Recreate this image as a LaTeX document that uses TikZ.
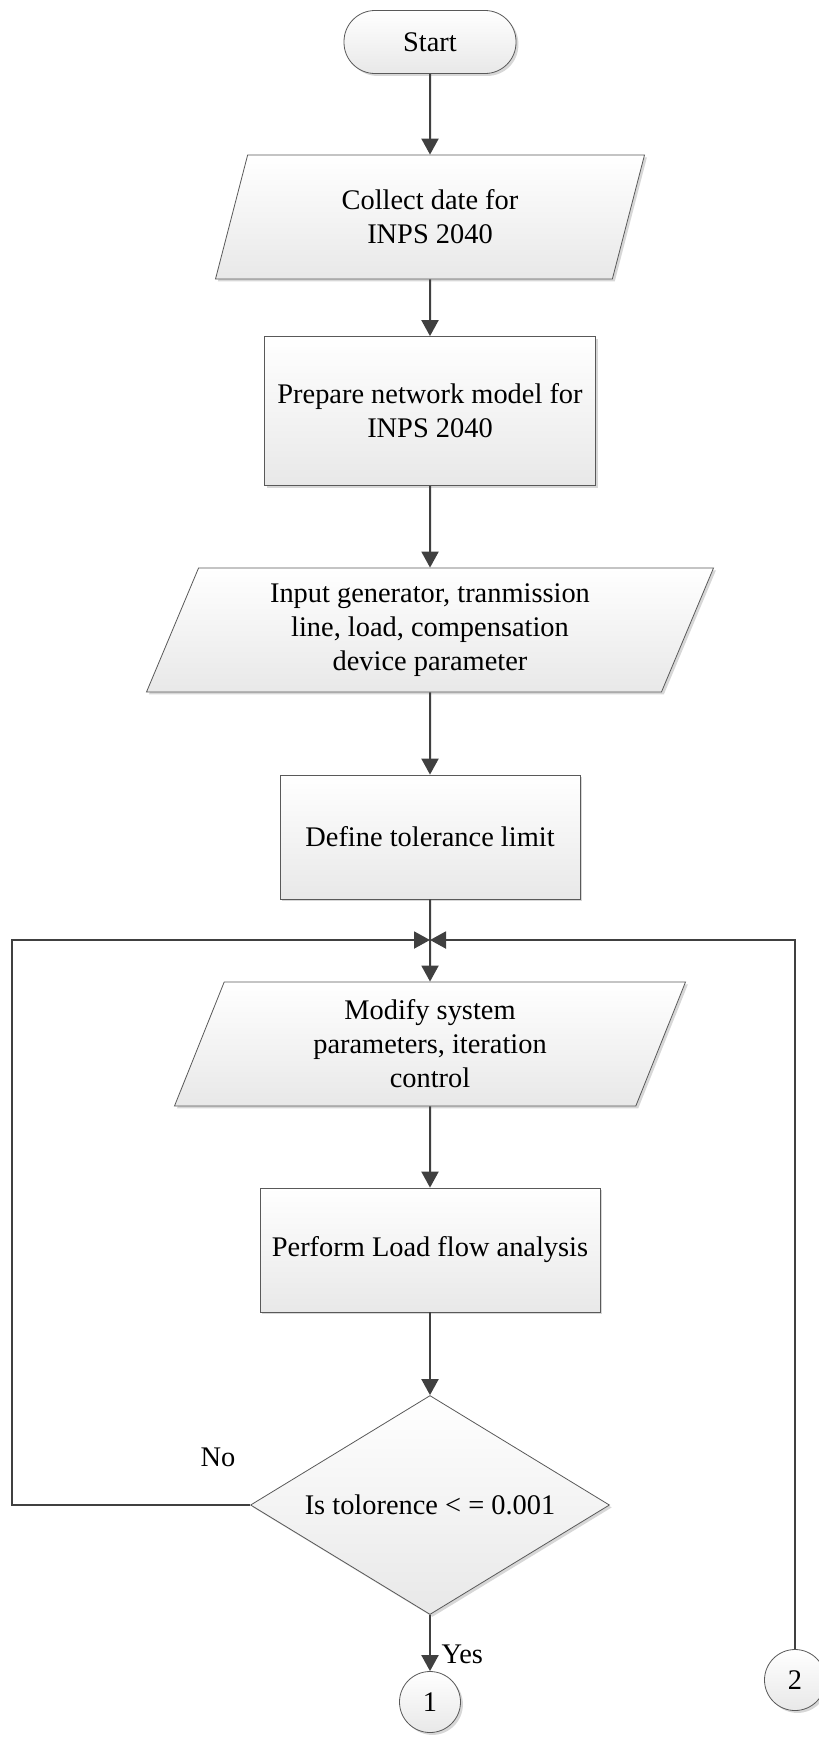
\documentclass[tikz,border=0pt]{standalone}
\usepackage{fontspec}
\setmainfont{Liberation Serif}
\usetikzlibrary{shapes.geometric,shadows,arrows.meta}

\begin{document}
\begin{tikzpicture}[x=.5pt,y=-.5pt,font=\fontsize{14.2}{17}\selectfont,
  box/.style={draw=black!65, line width=.4pt, top color=white, bottom color=black!9, align=center, inner sep=2pt,
    drop shadow={shadow xshift=1.2pt, shadow yshift=-1.2pt, fill=black!35, opacity=.45}},
  proc/.style={box, rectangle, minimum width=#1, minimum height=62pt},
  io/.style={box, trapezium, trapezium left angle=62.7, trapezium right angle=117.3, trapezium stretches body, minimum width=#1, minimum height=62pt},
  link/.style={draw=black!75, line width=1pt, -{Triangle[length=8pt,width=8.5pt]}}]
\useasboundingbox (0,0) rectangle (819,1758);
\node[box, minimum width=86pt, minimum height=31.5pt, rounded corners=15.5pt] (start) at (430,42) {Start};
\node[io=214.5pt] (collect) at (430,217) {Collect date for\\INPS 2040};
\node[proc=165.5pt, minimum height=74.5pt] (prepare) at (430,411) {Prepare network model for\\INPS 2040};
\node[io=283.5pt] (input) at (430,630) {Input generator, tranmission\\line, load, compensation\\device parameter};
\node[proc=150pt] (define) at (430,837) {Define tolerance limit};
\node[io=255.5pt] (modify) at (430,1044) {Modify system\\parameters, iteration\\control};
\node[proc=170pt] (perform) at (430,1250) {Perform Load flow analysis};
\node[box, diamond, aspect=1.64, inner sep=0pt, minimum width=179.5pt, minimum height=109.5pt] (test) at (430,1505) {Is tolorence < = 0.001};
\node[box, circle, inner sep=0pt, minimum size=30.5pt] (one) at (430,1702) {1};
\node[box, circle, inner sep=0pt, minimum size=30.5pt] (two) at (795,1680) {2};
\node (no) at (218,1457) {No};
\coordinate (merge) at (430,940);
\coordinate (loopL) at (12,940);
\coordinate (loopR) at (795,940);
\draw[link] (start) -- (collect);
\draw[link] (collect) -- (prepare);
\draw[link] (prepare) -- (input);
\draw[link] (input) -- (define);
\draw[link] (define) -- (modify);
\draw[link] (modify) -- (perform);
\draw[link] (perform) -- (test);
\draw[link] (test) -- node[right, pos=.7, xshift=2pt] (yes) {Yes} (one);
\draw[link] (test.west) -| (loopL) -- (merge);
\draw[link] (two) -- (loopR) -- (merge);
\end{tikzpicture}
\end{document}
